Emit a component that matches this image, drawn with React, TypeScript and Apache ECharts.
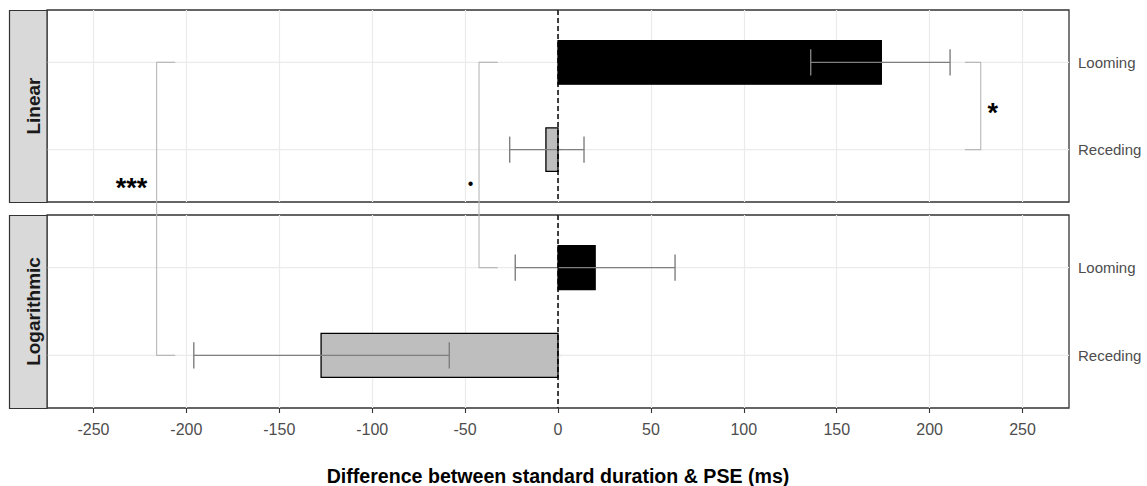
import React, { useEffect, useRef } from "react";
import * as echarts from "echarts";

// ---------- data ----------
const X_MIN = -275;
const X_MAX = 275;
const Y_MIN = 0.4;
const Y_MAX = 2.6;
const xTickValues = [-250, -200, -150, -100, -50, 0, 50, 100, 150, 200, 250];
const categories = ["Looming", "Receding"];
const categoryPos = [1, 2];
const panels = ["Linear", "Logarithmic"];

const linearMean = [174, -6.5];
const linearLow = [136, -26];
const linearHigh = [211, 14];
const logMean = [20, -127.5];
const logLow = [-23, -196];
const logHigh = [63, -58.5];
const barFills = ["#000000", "#bebebe"];

// significance brackets: vertical line x, tip x, start [panel, category], end [panel, category]
const bracketX = [-216, -42.5, 227.5];
const bracketTipX = [-206, -32.5, 219];
const bracketStart = [[0, 0], [0, 0], [0, 0]];
const bracketEnd = [[1, 1], [1, 0], [0, 1]];
const sigText = ["***", "\u2022", "*"];
const sigX = [-229.5, -47, 234];
const sigY = [2.44, 2.39, 1.58];

const AXIS_TITLE = "Difference between standard duration & PSE (ms)";
const FONT = "'Liberation Sans', Arial, Helvetica, sans-serif";

const grids = [
  { left: 47, right: 78, top: 10, height: 192 },
  { left: 47, right: 78, top: 215, height: 193 },
];

export default function App() {
  const ref = useRef<HTMLDivElement>(null);

  useEffect(() => {
    if (!ref.current) return;
    const chart = echarts.init(ref.current, undefined, { renderer: "svg" });

    const means = [linearMean, logMean];
    const lows = [linearLow, logLow];
    const highs = [linearHigh, logHigh];

    const xAxis: any[] = [];
    const yAxis: any[] = [];
    const series: any[] = [];

    grids.forEach((g, p) => {
      xAxis.push({
        type: "value",
        gridIndex: p,
        min: X_MIN,
        max: X_MAX,
        interval: 25,
        axisLine: { show: false },
        axisTick: {
          show: p === 1,
          customValues: xTickValues,
          length: 5,
          lineStyle: { color: "#333333", width: 1.1 },
        },
        axisLabel: {
          show: p === 1,
          customValues: xTickValues,
          color: "#4d4d4d",
          fontSize: 16,
          fontFamily: FONT,
          margin: 13,
          formatter: (v: number) => String(v),
        },
        splitLine: { show: true, lineStyle: { color: "#ebebeb", width: 1.2 } },
      });
      yAxis.push({
        type: "value",
        gridIndex: p,
        min: Y_MIN,
        max: Y_MAX,
        inverse: true,
        position: "right",
        axisLine: { show: false },
        splitLine: { show: false },
        axisTick: {
          show: true,
          customValues: categoryPos,
          length: 4,
          lineStyle: { color: "#333333", width: 1.1 },
        },
        axisLabel: {
          customValues: categoryPos,
          color: "#4d4d4d",
          fontSize: 15,
          fontFamily: FONT,
          margin: 9,
          formatter: (v: number) => {
            const i = categoryPos.indexOf(v);
            return i >= 0 ? categories[i] : "";
          },
        },
      });

      const rows = categoryPos.map((c, i) => [c, means[p][i], lows[p][i], highs[p][i], i]);

      // horizontal grid lines at categories
      series.push({
        type: "custom",
        xAxisIndex: p,
        yAxisIndex: p,
        z: 1,
        silent: true,
        data: categoryPos.map((c) => [c]),
        encode: { y: 0 },
        renderItem: (_params: any, api: any) => {
          const y = api.value(0);
          const a = api.coord([X_MIN, y]);
          const b = api.coord([X_MAX, y]);
          return {
            type: "line",
            shape: { x1: a[0], y1: a[1], x2: b[0], y2: b[1] },
            style: { stroke: "#ebebeb", lineWidth: 1.2 },
          };
        },
      });

      // bars
      series.push({
        type: "custom",
        xAxisIndex: p,
        yAxisIndex: p,
        z: 2,
        data: rows,
        encode: { y: 0, x: 1 },
        renderItem: (_params: any, api: any) => {
          const y = api.value(0);
          const v = api.value(1);
          const idx = api.value(4);
          const a = api.coord([0, y]);
          const b = api.coord([v, y]);
          const h = api.size([0, 0.5], [0, y])[1];
          return {
            type: "rect",
            shape: {
              x: Math.min(a[0], b[0]),
              y: a[1] - h / 2,
              width: Math.abs(b[0] - a[0]),
              height: h,
            },
            style: { fill: barFills[idx], stroke: "#000000", lineWidth: 1.3 },
          };
        },
      });

      // error bars
      series.push({
        type: "custom",
        xAxisIndex: p,
        yAxisIndex: p,
        z: 3,
        data: rows,
        encode: { y: 0, x: [2, 3] },
        renderItem: (_params: any, api: any) => {
          const y = api.value(0);
          const lo = api.coord([api.value(2), y]);
          const hi = api.coord([api.value(3), y]);
          const ch = api.size([0, 0.3], [0, y])[1] / 2;
          const st = { stroke: "#7f7f7f", lineWidth: 1.4 };
          return {
            type: "group",
            children: [
              { type: "line", shape: { x1: lo[0], y1: lo[1], x2: hi[0], y2: hi[1] }, style: st },
              { type: "line", shape: { x1: lo[0], y1: lo[1] - ch, x2: lo[0], y2: lo[1] + ch }, style: st },
              { type: "line", shape: { x1: hi[0], y1: hi[1] - ch, x2: hi[0], y2: hi[1] + ch }, style: st },
            ],
          };
        },
      });

      // dashed zero line
      series.push({
        type: "line",
        xAxisIndex: p,
        yAxisIndex: p,
        z: 4,
        silent: true,
        symbol: "none",
        data: [
          [0, Y_MIN],
          [0, Y_MAX],
        ],
        lineStyle: { color: "#000000", width: 1.5, type: [5, 3] },
      });
    });

    const baseGraphics: any[] = [];
    grids.forEach((g, p) => {
      baseGraphics.push({
        type: "rect",
        z: 50,
        shape: { x: 9.5, y: g.top + 0.5, width: 37.5, height: g.height },
        style: { fill: "#d9d9d9", stroke: "#333333", lineWidth: 1.2 },
      });
      baseGraphics.push({
        type: "text",
        z: 51,
        x: 33.5,
        y: g.top + g.height / 2,
        rotation: Math.PI / 2,
        style: {
          text: panels[p],
          font: `bold 19px ${FONT}`,
          fill: "#1a1a1a",
          align: "center",
          verticalAlign: "middle",
        },
      });
    });
    baseGraphics.push({
      type: "text",
      z: 51,
      x: 558,
      y: 476,
      style: {
        text: AXIS_TITLE,
        font: `bold 19.6px ${FONT}`,
        fill: "#000000",
        align: "center",
        verticalAlign: "middle",
      },
    });

    chart.setOption({
      animation: false,
      backgroundColor: "#ffffff",
      textStyle: { fontFamily: FONT },
      grid: grids.map((g) => ({
        ...g,
        show: true,
        borderColor: "#333333",
        borderWidth: 1.3,
        backgroundColor: "#ffffff",
      })),
      xAxis,
      yAxis,
      series,
      graphic: baseGraphics,
    });

    // brackets and significance labels, placed through the axes' scales
    const px = (panel: number, x: number, y: number) =>
      chart.convertToPixel({ xAxisIndex: panel, yAxisIndex: panel }, [x, y]) as number[];

    const extra: any[] = [];
    bracketX.forEach((bx, i) => {
      const [sp, sc] = bracketStart[i];
      const [ep, ec] = bracketEnd[i];
      const t1 = px(sp, bracketTipX[i], categoryPos[sc]);
      const v1 = px(sp, bx, categoryPos[sc]);
      const v2 = px(ep, bx, categoryPos[ec]);
      const t2 = px(ep, bracketTipX[i], categoryPos[ec]);
      extra.push({
        type: "polyline",
        z: 60,
        shape: { points: [t1, v1, v2, t2] },
        style: { stroke: "#b8b8b8", lineWidth: 1.1, fill: null },
      });
    });
    sigText.forEach((t, i) => {
      const q = px(0, sigX[i], sigY[i]);
      extra.push({
        type: "text",
        z: 61,
        x: q[0],
        y: q[1],
        style: {
          text: t,
          font: t === "\u2022" ? `16px ${FONT}` : `bold 27px ${FONT}`,
          fill: "#000000",
          align: "center",
          verticalAlign: "middle",
        },
      });
    });
    chart.setOption({ graphic: [...baseGraphics, ...extra] });

    return () => chart.dispose();
  }, []);

  return (
    <div
      ref={ref}
      style={{ position: "fixed", left: 0, top: 0, width: 1147, height: 486 }}
    />
  );
}
